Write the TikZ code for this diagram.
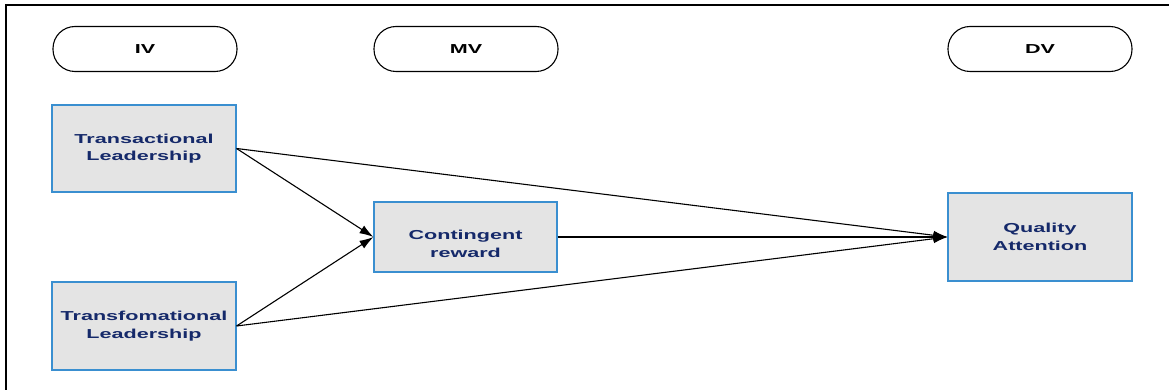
\documentclass[tikz,border=0pt]{standalone}
\usepackage{fontspec}
\setmainfont{Liberation Sans}
\newfontfamily\widefont[FakeStretch=1.66]{Liberation Sans}
\usetikzlibrary{arrows.meta}
\definecolor{boxfill}{HTML}{E4E4E4}
\definecolor{boxline}{HTML}{3A8FD0}
\definecolor{labelblue}{HTML}{15296A}
\begin{document}
\begin{tikzpicture}[x=1pt,y=-1pt,
  pill/.style={draw=black,line width=1.1pt,rounded corners=22pt,minimum width=184pt,minimum height=45pt,
    font=\widefont\bfseries\fontsize{13}{14}\selectfont,inner sep=0pt},
  labeltext/.style={font=\widefont\bfseries\fontsize{13}{17.5}\selectfont,text=labelblue,align=center,inner sep=0pt},
  var/.style={draw=boxline,fill=boxfill,line width=1.1pt,minimum width=184pt,labeltext},
  link/.style={-{Latex[length=14pt,width=9pt]},line width=1.1pt,black}]
\useasboundingbox (0,0) rectangle (1169,390);
% frame
\draw[line width=1.2pt] (6,390) -- (6,5) -- (1169,5);
% column headings
\node[pill] (iv) at (145,49) {IV};
\node[pill] (mv) at (466,49) {MV};
\node[pill] (dv) at (1040,49) {DV};
% variables
\node[var,minimum height=87pt] (tl) at (144,148.5) {Transactional\\Leadership};
\node[var,minimum height=88pt] (tf) at (144,326) {Transfomational\\Leadership};
\node[var,minimum height=70pt,minimum width=183pt] (cr) at (465.5,237) {};
\node[labeltext] (crtext) at ([yshift=-7pt]cr.center) {Contingent\\reward};
\node[var,minimum height=88pt] (qa) at (1040,237) {Quality\\Attention};
% paths
\draw[link] (tl.east) -- (cr.west);
\draw[link] (tf.east) -- (cr.west);
\draw[link] (tl.east) -- (qa.west);
\draw[link] (tf.east) -- (qa.west);
\draw[link] (cr.east) -- (qa.west);
\end{tikzpicture}
\end{document}
